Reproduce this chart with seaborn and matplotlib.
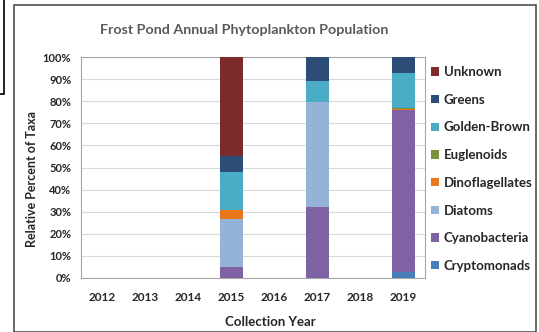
import pandas as pd
import numpy as np
import seaborn as sns
import matplotlib.pyplot as plt
from matplotlib.patches import Patch, Rectangle
from matplotlib.lines import Line2D

# Data (percent of taxa per year)
years = ['2012', '2013', '2014', '2015', '2016', '2017', '2018', '2019']
taxa = ['Cryptomonads', 'Cyanobacteria', 'Diatoms', 'Dinoflagellates',
        'Euglenoids', 'Golden-Brown', 'Greens', 'Unknown']
cryptomonads = [0, 0, 0, 0.0, 0, 0.0, 0, 2.7]
cyanobacteria = [0, 0, 0, 4.8, 0, 32.2, 0, 73.3]
diatoms = [0, 0, 0, 22.0, 0, 47.4, 0, 0.0]
dinoflagellates = [0, 0, 0, 3.8, 0, 0.0, 0, 0.5]
euglenoids = [0, 0, 0, 0.3, 0, 0.0, 0, 0.5]
golden_brown = [0, 0, 0, 17.2, 0, 9.7, 0, 15.8]
greens = [0, 0, 0, 7.2, 0, 10.7, 0, 7.2]
unknown = [0, 0, 0, 44.7, 0, 0.0, 0, 0.0]

colors = {
    'Cryptomonads': '#4a7ebb',
    'Cyanobacteria': '#7f62a3',
    'Diatoms': '#95b3d7',
    'Dinoflagellates': '#e8771c',
    'Euglenoids': '#77933c',
    'Golden-Brown': '#4bacc6',
    'Greens': '#2c4d75',
    'Unknown': '#7d2a2a',
}

df = pd.DataFrame({'year': years, 'Cryptomonads': cryptomonads,
                   'Cyanobacteria': cyanobacteria, 'Diatoms': diatoms,
                   'Dinoflagellates': dinoflagellates, 'Euglenoids': euglenoids,
                   'Golden-Brown': golden_brown, 'Greens': greens,
                   'Unknown': unknown})
cum = df[taxa].cumsum(axis=1)
cum['year'] = df['year']

sns.set_style('white')
plt.rcParams['font.family'] = ['Lato', 'DejaVu Sans']

fig = plt.figure(figsize=(5.39, 3.32), dpi=100)
ax = fig.add_axes([81 / 539, 1 - 278 / 332, 344 / 539, 221 / 332])

# draw cumulative bars from the top layer down so each one shows its segment
for t in reversed(taxa):
    sns.barplot(data=cum, x='year', y=t, order=years, color=colors[t],
                width=0.54, saturation=1, linewidth=0, ax=ax, zorder=3)

ax.set_ylim(0, 100)
ax.set_yticks(np.arange(0, 101, 10))
ax.set_yticklabels([f'{v}%' for v in range(0, 101, 10)])
ax.yaxis.grid(True, color='#d9d9d9', lw=0.8, zorder=0)
ax.set_axisbelow(True)
for s in ax.spines.values():
    s.set_color('#a6a6a6')
    s.set_linewidth(0.8)
ax.tick_params(axis='both', length=0, colors='#262626')
ax.tick_params(axis='y', labelsize=8, pad=7)
ax.tick_params(axis='x', labelsize=8.5, pad=10)
for lbl in ax.get_xticklabels() + ax.get_yticklabels():
    lbl.set_fontweight('bold')

ax.set_xlabel('Collection Year', fontsize=9.5, fontweight='bold',
              color='#262626')
ax.xaxis.set_label_coords(0.55, -0.17)
ax.set_ylabel('Relative Percent of Taxa', fontsize=9, fontweight='bold',
              color='#262626')
ax.yaxis.set_label_coords(-0.125, 0.45)
fig.text(244 / 539, 1 - 30 / 332, 'Frost Pond Annual Phytoplankton Population',
         ha='center', va='center', fontsize=10.3, fontweight='bold',
         color='#595959')

handles = [Patch(facecolor=colors[t], edgecolor='none', label=t)
           for t in reversed(taxa)]
leg = fig.legend(handles=handles, loc='upper left',
                 bbox_to_anchor=(431 / 539, 1 - 66 / 332),
                 frameon=False, fontsize=9.5, handlelength=0.6,
                 handleheight=0.6, handletextpad=0.35, labelspacing=1.19,
                 borderaxespad=0, borderpad=0, labelcolor='#262626')
for txt in leg.get_texts():
    txt.set_fontweight('bold')

# outer chart border and the overlapping box at top-left
fig.patches.append(Rectangle((14 / 539, 0.0), 522 / 539, 1 - 5 / 332,
                             transform=fig.transFigure, fill=False,
                             edgecolor='#505050', lw=1.2))
fig.lines.append(Line2D([4 / 539, 4 / 539], [1, 1 - 94 / 332],
                        transform=fig.transFigure, color='black', lw=1.2))
fig.lines.append(Line2D([0, 4 / 539], [1 - 94 / 332, 1 - 94 / 332],
                        transform=fig.transFigure, color='black', lw=1.2))

fig.savefig('out.png', dpi=100)
